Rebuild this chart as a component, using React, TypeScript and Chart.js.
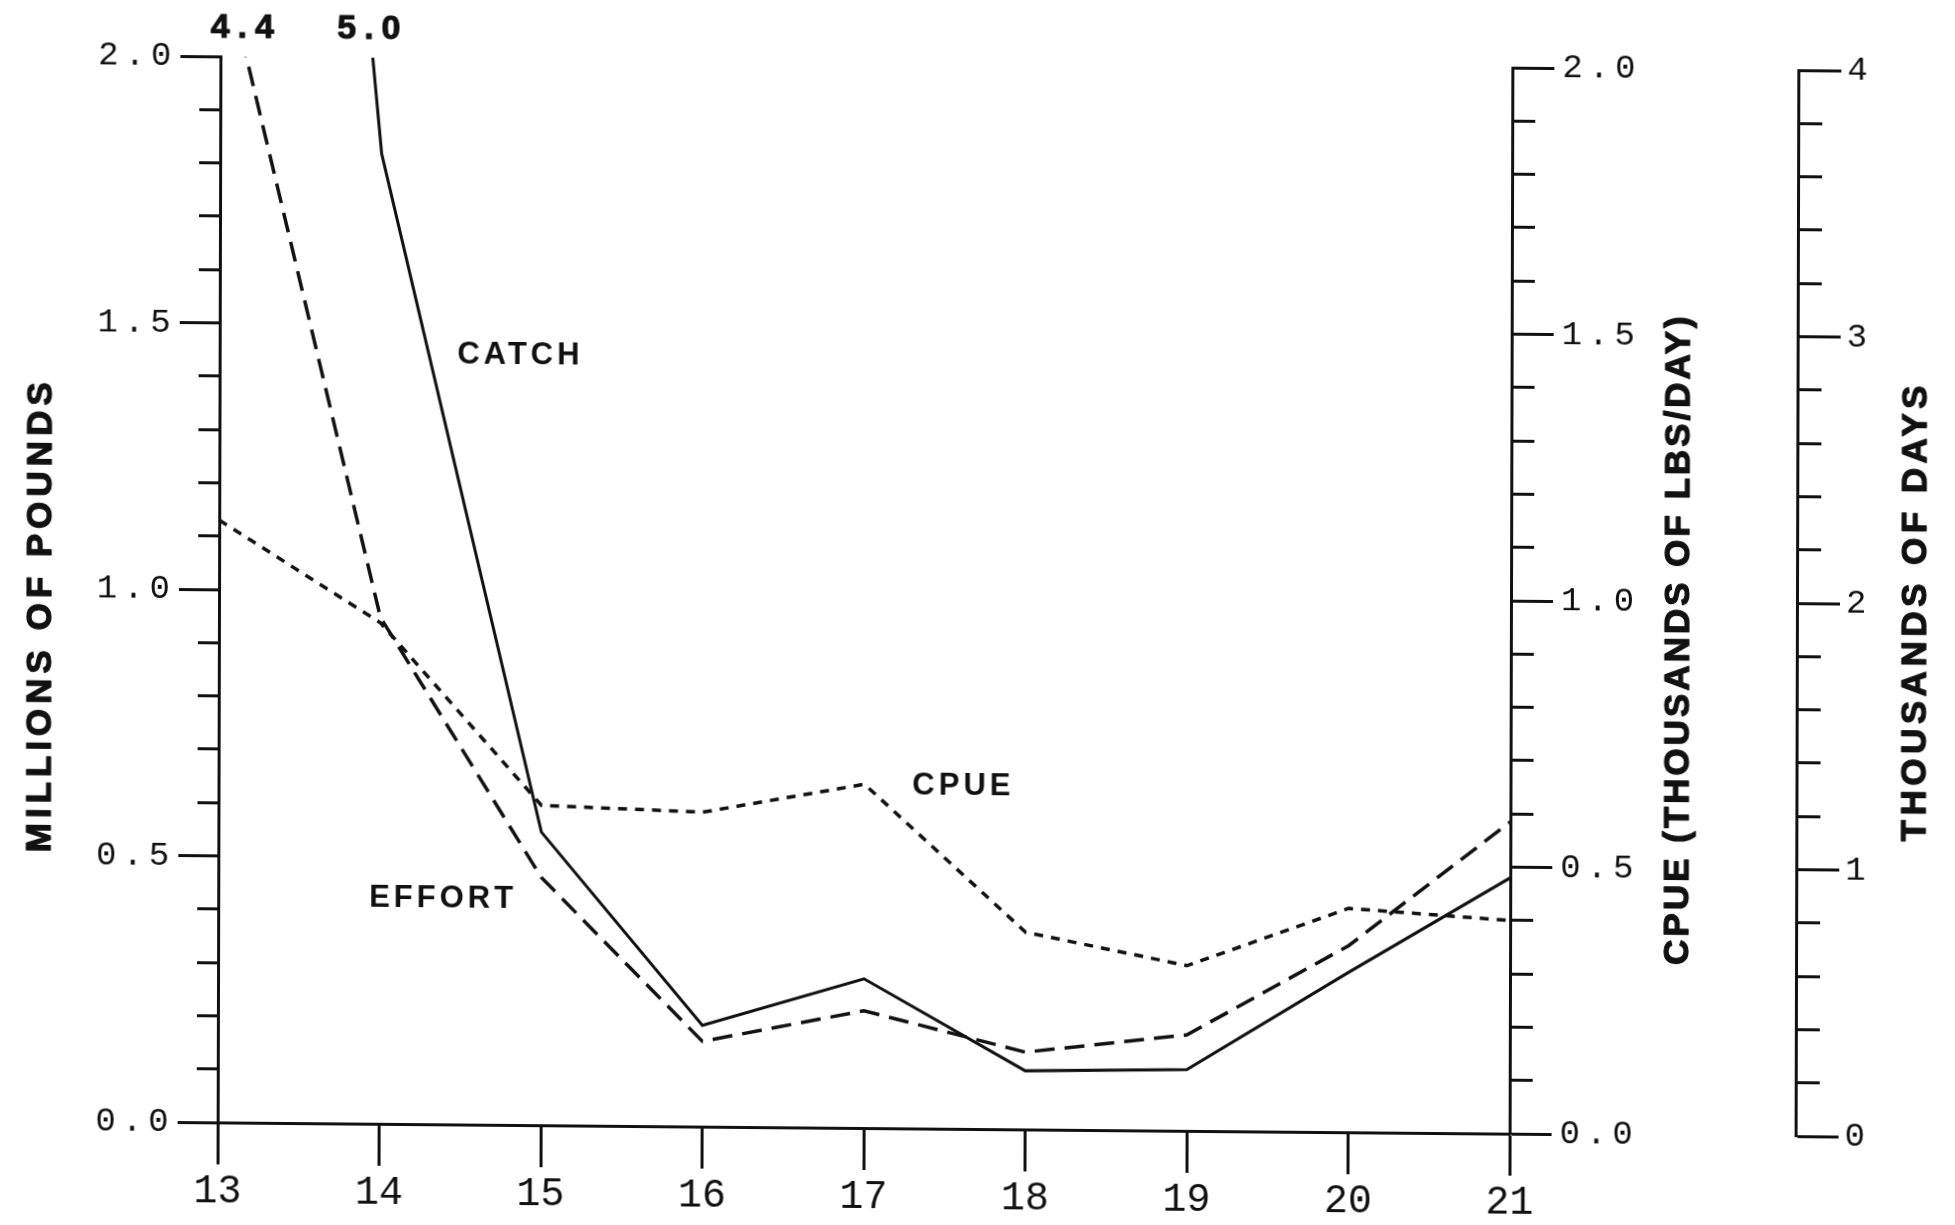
import React, { useEffect, useRef } from 'react';
import { Chart, registerables, LinearScale } from 'chart.js';

// ---------------- data ----------------
const YEARS = [13, 14, 15, 16, 17, 18, 19, 20, 21];
// millions of pounds (left axis)
const CATCH = [5.0, 1.82, 0.55, 0.19, 0.28, 0.11, 0.115, 0.3, 0.48];
// thousands of days (far right axis)
const EFFORT = [4.4, 1.9, 0.93, 0.32, 0.44, 0.29, 0.36, 0.7, 1.17];
// thousands of lbs/day (right axis)
const CPUE = [1.13, 0.94, 0.6, 0.59, 0.645, 0.37, 0.31, 0.42, 0.4];

const SERIES_NAMES = ['CATCH', 'EFFORT', 'CPUE'];
const AXIS_TITLES = ['MILLIONS OF POUNDS', 'CPUE (THOUSANDS OF LBS/DAY)', 'THOUSANDS OF DAYS'];
// in-plot series labels, anchored in data units (x = year, y = left axis units)
const LABEL_TEXT = ['CATCH', 'CPUE', 'EFFORT'];
const LABEL_X = [14.85, 17.6, 14.38];
const LABEL_Y = [1.443, 0.642, 0.423];

// ---------------- styling ----------------
const INK = '#111111';
const MONO = "'Liberation Mono', 'DejaVu Sans Mono', monospace";
const SANS = "'Liberation Sans', Arial, Helvetica, sans-serif";
// the scanned page is slightly sheared: horizontals drop to the right
const PAGE_TRANSFORM = 'skewY(0.5deg) skewX(-0.15deg)';

const TITLE_LAYOUT: Record<string, { dx: number; dy: number; spacing: number }> = {
  y: { dx: -178, dy: 27, spacing: 5 },
  cpue: { dx: 168, dy: 37, spacing: 3 },
  days: { dx: 119, dy: 7, spacing: 4.5 },
};
const LABEL_SPACING: Record<string, number> = { x: 0, y: 6, cpue: 6, days: 0 };

class PlotterScale extends LinearScale {
  static id = 'plotter';
  drawLabels(chartArea: any) {
    const ctx: any = this.ctx;
    ctx.save();
    ctx.letterSpacing = (LABEL_SPACING[this.id] || 0) + 'px';
    super.drawLabels(chartArea);
    ctx.restore();
  }
  drawTitle() {
    const t: any = (this.options as any).title;
    if (!t || !t.display) return;
    const lay = TITLE_LAYOUT[this.id] || { dx: 0, dy: 0, spacing: 0 };
    const ctx: any = this.ctx;
    const ca = this.chart.chartArea;
    const axisX = this.position === 'left' ? this.right : this.left;
    const x = axisX + lay.dx;
    const y = (ca.top + ca.bottom) / 2 + lay.dy;
    ctx.save();
    ctx.translate(x, y);
    ctx.rotate(-Math.PI / 2);
    ctx.font = 'bold 35px ' + SANS;
    ctx.letterSpacing = lay.spacing + 'px';
    ctx.fillStyle = INK;
    ctx.strokeStyle = INK;
    ctx.lineWidth = 1.2;
    ctx.lineJoin = 'round';
    ctx.textAlign = 'center';
    ctx.textBaseline = 'middle';
    ctx.fillText(t.text, 0, 0);
    ctx.strokeText(t.text, 0, 0);
    ctx.restore();
  }
}

Chart.register(...registerables, PlotterScale);

const isMajor = (v: number, step: number) => Math.abs(v / step - Math.round(v / step)) < 1e-6;

const annotationPlugin = {
  id: 'plotAnnotations',
  afterDatasetsDraw(chart: any) {
    const { ctx, chartArea, scales } = chart;
    const xs = scales.x;
    ctx.save();
    ctx.fillStyle = INK;
    ctx.strokeStyle = INK;
    ctx.lineJoin = 'round';
    ctx.textAlign = 'center';
    ctx.textBaseline = 'middle';
    // values that run off the top of their axis
    chart.data.datasets.forEach((ds: any) => {
      const sc = scales[ds.yAxisID];
      const p0 = ds.data[0];
      const p1 = ds.data[1];
      if (p0.y > sc.max) {
        const xc = p0.x + ((p1.x - p0.x) * (p0.y - sc.max)) / (p0.y - p1.y);
        const px = xs.getPixelForValue(xc);
        const txt = p0.y.toFixed(1);
        ctx.font = 'bold 34px ' + SANS;
        ctx.letterSpacing = '8px';
        ctx.lineWidth = 1;
        ctx.fillText(txt, px, chartArea.top - 28);
        ctx.strokeText(txt, px, chartArea.top - 28);
      }
    });
    // series names
    const ys = scales.y;
    ctx.font = 'bold 31px ' + SANS;
    ctx.letterSpacing = '4px';
    LABEL_TEXT.forEach((txt, i) => {
      ctx.fillText(txt, xs.getPixelForValue(LABEL_X[i]) + 2, ys.getPixelForValue(LABEL_Y[i]));
    });
    ctx.restore();
  },
};

function pts(vals: number[]) {
  return YEARS.map((x, i) => ({ x, y: vals[i] }));
}

export default function App() {
  const ref = useRef<HTMLCanvasElement | null>(null);
  useEffect(() => {
    if (!ref.current) return;
    const tickFont = { family: MONO, size: 34, weight: 'normal' as const, lineHeight: 1 };
    const chart = new Chart(ref.current, {
      type: 'line',
      data: {
        datasets: [
          {
            label: SERIES_NAMES[0],
            data: pts(CATCH),
            yAxisID: 'y',
            borderColor: INK,
            borderWidth: 3,
            pointRadius: 0,
            tension: 0,
          },
          {
            label: SERIES_NAMES[1],
            data: pts(EFFORT),
            yAxisID: 'days',
            borderColor: INK,
            borderWidth: 3.5,
            borderDash: [20, 10],
            pointRadius: 0,
            tension: 0,
          },
          {
            label: SERIES_NAMES[2],
            data: pts(CPUE),
            yAxisID: 'cpue',
            borderColor: INK,
            borderWidth: 3.5,
            borderDash: [9, 8],
            pointRadius: 0,
            tension: 0,
          },
        ] as any,
      },
      plugins: [annotationPlugin],
      options: {
        animation: false,
        responsive: false,
        maintainAspectRatio: false,
        devicePixelRatio: 1,
        layout: { padding: { top: 63, bottom: 0, left: 0, right: 0 } },
        plugins: { legend: { display: false }, tooltip: { enabled: false } },
        scales: {
          x: {
            type: 'linear',
            position: 'bottom',
            min: 13,
            max: 21,
            ticks: {
              stepSize: 1,
              autoSkip: false,
              maxRotation: 0,
              color: INK,
              padding: 7,
              font: { family: MONO, size: 40, lineHeight: 1 },
              callback: (v: any) => String(v),
            },
            grid: { drawOnChartArea: false, drawTicks: true, tickLength: 42, tickWidth: 3, tickColor: INK },
            border: { display: true, color: INK, width: 3 },
            afterFit: (s: any) => {
              s.height = 96;
            },
          },
          y: {
            type: 'plotter' as any,
            position: 'left',
            weight: 0,
            min: 0,
            max: 2,
            ticks: {
              stepSize: 0.1,
              maxTicksLimit: 100,
              autoSkip: false,
              color: INK,
              padding: 3,
              font: tickFont,
              callback: (v: any) => (isMajor(v, 0.5) ? Number(v).toFixed(1) : ''),
            },
            grid: {
              drawOnChartArea: false,
              tickLength: 40,
              tickWidth: 3,
              tickColor: INK,
              tickBorderDash: (c: any) => (c.tick && isMajor(c.tick.value, 0.5) ? [] : [21, 19]),
              tickBorderDashOffset: (c: any) => (c.tick && isMajor(c.tick.value, 0.5) ? 0 : 21),
            },
            border: { color: INK, width: 3 },
            title: { display: true, text: AXIS_TITLES[0], color: INK },
            afterFit: (s: any) => {
              s.width = 219;
            },
          } as any,
          cpue: {
            type: 'plotter' as any,
            position: 'right',
            weight: 0,
            min: 0,
            max: 2,
            ticks: {
              stepSize: 0.1,
              maxTicksLimit: 100,
              autoSkip: false,
              color: INK,
              padding: 8,
              font: tickFont,
              callback: (v: any) => (isMajor(v, 0.5) ? Number(v).toFixed(1) : ''),
            },
            grid: {
              drawOnChartArea: false,
              tickLength: 42,
              tickWidth: 3,
              tickColor: INK,
              tickBorderDash: (c: any) => (c.tick && isMajor(c.tick.value, 0.5) ? [] : [21, 60]),
            },
            border: { color: INK, width: 3 },
            title: { display: true, text: AXIS_TITLES[1], color: INK },
            afterFit: (s: any) => {
              s.width = 286;
            },
          } as any,
          days: {
            type: 'plotter' as any,
            position: 'right',
            weight: 1,
            min: 0,
            max: 4,
            ticks: {
              stepSize: 0.2,
              maxTicksLimit: 100,
              autoSkip: false,
              color: INK,
              padding: 6,
              font: tickFont,
              callback: (v: any) => (isMajor(v, 1) ? String(Math.round(v)) : ''),
            },
            grid: {
              drawOnChartArea: false,
              tickLength: 43,
              tickWidth: 3,
              tickColor: INK,
              tickBorderDash: (c: any) => (c.tick && isMajor(c.tick.value, 1) ? [] : [22, 60]),
            },
            border: { color: INK, width: 3 },
            title: { display: true, text: AXIS_TITLES[2], color: INK },
            afterFit: (s: any) => {
              s.width = 158;
            },
          } as any,
        },
      } as any,
    });
    return () => chart.destroy();
  }, []);
  return (
    <div style={{ position: 'fixed', left: 0, top: 0, width: 1955, height: 1225, background: '#ffffff', overflow: 'hidden' }}>
      <canvas
        ref={ref}
        width={1955}
        height={1225}
        style={{
          width: 1955,
          height: 1225,
          display: 'block',
          transform: PAGE_TRANSFORM,
          transformOrigin: '977.5px 612.5px',
        }}
      />
    </div>
  );
}
